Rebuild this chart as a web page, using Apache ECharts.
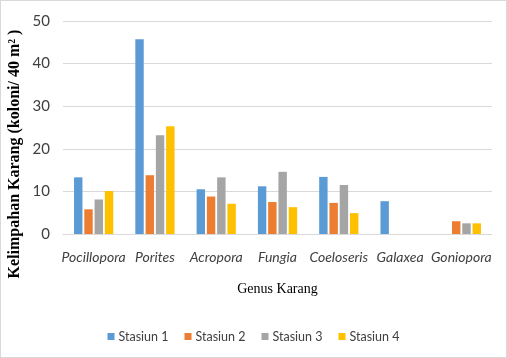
<!DOCTYPE html>
<html><head><meta charset="utf-8">
<script src="https://cdn.jsdelivr.net/npm/echarts@6/dist/echarts.min.js"></script>
<style>html,body{margin:0;padding:0;background:#fff}#c{width:507px;height:358px;box-sizing:border-box;border:1px solid #d9d9d9}</style>
</head><body><div id="c"></div>
<script>
const categories = ['Pocillopora','Porites','Acropora','Fungia','Coeloseris','Galaxea','Goniopora'];
const stasiun1 = [13.3, 45.7, 10.5, 11.2, 13.4, 7.7, 0];
const stasiun2 = [5.8, 13.8, 8.8, 7.5, 7.3, 0, 3.0];
const stasiun3 = [8.1, 23.2, 13.3, 14.6, 11.5, 0, 2.5];
const stasiun4 = [10.1, 25.3, 7.1, 6.3, 4.9, 0, 2.5];
const seriesNames = ['Stasiun 1','Stasiun 2','Stasiun 3','Stasiun 4'];
const yTitle = 'Kelimpahan Karang (koloni/ 40 m² )';
const xTitle = 'Genus Karang';
const colors = ['#5b9bd5','#ed7d31','#a5a5a5','#ffc000'];
const chart = echarts.init(document.getElementById('c'));
const data = [stasiun1, stasiun2, stasiun3, stasiun4];
chart.setOption({
  animation:false,
  grid:{left:62,right:14,top:20,bottom:123},
  legend:{top:324,left:'center',itemWidth:7,itemHeight:7,itemGap:16,icon:'rect',
    textStyle:{fontFamily:'Lato, sans-serif',fontSize:12.5,color:'#404040',padding:[0,0,0,-1]},
    data:seriesNames},
  graphic:[{type:'text',rotation:Math.PI/2,x:14,y:153,
    style:{text:yTitle,align:'center',verticalAlign:'middle',
      font:'bold 16px "Liberation Serif", serif',fill:'#000'}}],
  xAxis:{type:'category',data:categories,
    axisLine:{lineStyle:{color:'#d9d9d9'}},axisTick:{show:false},
    axisLabel:{interval:0,fontStyle:'italic',fontFamily:'Lato, sans-serif',fontSize:14,color:'#404040',margin:16},
    name:xTitle,nameLocation:'middle',nameGap:48,
    nameTextStyle:{fontFamily:'Liberation Serif, serif',fontSize:14,color:'#000'}},
  yAxis:{type:'value',min:0,max:50,interval:10,
    splitLine:{lineStyle:{color:'#d9d9d9'}},
    axisLabel:{fontFamily:'Lato, sans-serif',fontSize:15,color:'#404040',margin:13}},
  series:data.map((d,i)=>({name:seriesNames[i],type:'bar',data:d,barGap:'22%',barCategoryGap:'36%',
    itemStyle:{color:colors[i]}}))
});
</script></body></html>
